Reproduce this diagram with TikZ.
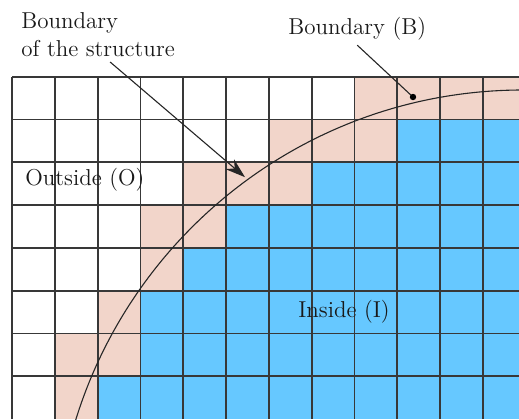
\documentclass[tikz,border=0pt]{standalone}
\usepackage{tikz}
\usetikzlibrary{arrows.meta, positioning, calc}

\definecolor{bpink}{HTML}{F2D5CA}
\definecolor{iblue}{HTML}{66C8FF}
\definecolor{gridgray}{HTML}{383838}

\begin{document}
\begin{tikzpicture}[
    x=21.4pt, y=21.4pt,
    >={Stealth[length=10pt, width=6.5pt]},
    bcell/.style={fill=bpink},
    icell/.style={fill=iblue},
    gridln/.style={draw=gridgray, line width=0.9pt},
    bound/.style={draw=black!85, line width=0.55pt},
    lbl/.style={inner sep=0pt, font=\fontsize{11.5}{14}\selectfont, text=black!90},
    pointer/.style={draw=black!85, line width=0.55pt}
  ]
  \useasboundingbox (-0.2804,0) rectangle (11.8458,9.79);

  \begin{scope}
  \clip (-0.2804,0) rectangle (11.8458,9.79);
  % --- celdas de frontera (B) ---
  \foreach \r/\first/\last in {0/8/11, 1/6/8, 2/4/6, 3/3/4, 4/3/3, 5/2/2, 6/1/2, 7/1/1}
    \fill[bcell] (\first,7-\r) rectangle (\last+1,8-\r);
  % --- celdas interiores (I) ---
  \foreach \r/\first in {1/9, 2/7, 3/5, 4/4, 5/3, 6/3, 7/2}
    \fill[icell] (\first,7-\r) rectangle (12,8-\r);

  % --- rejilla ---
  \foreach \y in {1,...,8}
    \draw[gridln] (0,\y) -- (12,\y);
  \foreach \x in {0,...,11}
    \draw[gridln] (\x,0) -- (\x,8);

  % --- contorno de la estructura ---
  \draw[bound] (11.94,-3.248) circle (10.935);
  \end{scope}

  % --- etiquetas ---
  \node[lbl, align=left, anchor=north west] (bstruct) at (0.21,9.51)
    {Boundary\\of the structure};
  \node[lbl, anchor=base west] (bB) at (6.449,8.972) {Boundary (B)};
  \node[lbl, anchor=base west] (outs) at (0.304,5.444) {Outside (O)};
  \node[lbl, anchor=base west] (ins) at (6.68,2.36) {Inside (I)};

  \coordinate (tipO) at (5.444,5.65);
  \coordinate (dotB) at (9.369,7.523);

  % --- flechas ---
  \draw[pointer, ->] ([xshift=6pt,yshift=-2.5pt]bstruct.south) -- (tipO);
  \draw[pointer] ([yshift=-2pt]bB.south) -- (dotB);
  \fill (dotB) circle (1.6pt);
\end{tikzpicture}
\end{document}
